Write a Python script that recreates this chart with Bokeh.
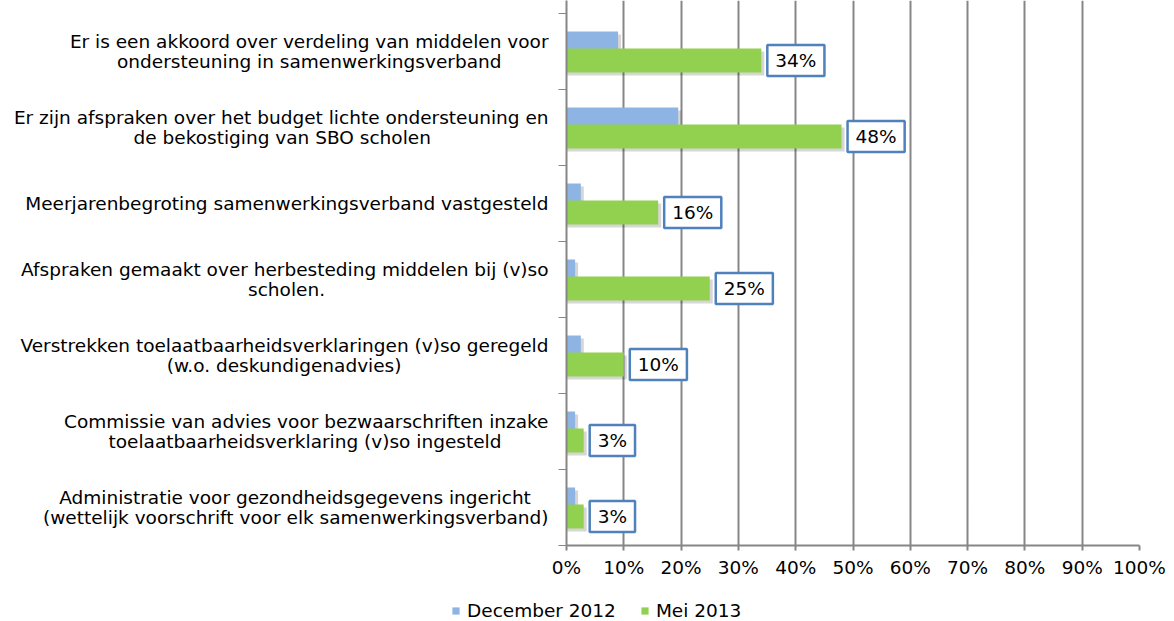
import glob
from bokeh.plotting import figure
from bokeh.layouts import column
from bokeh.models import (ColumnDataSource, FixedTicker, Range1d, Legend, LegendItem)
from bokeh.transform import dodge
from bokeh.core.properties import value
from bokeh.embed import file_html
from bokeh.resources import INLINE

categories = [
    "Er is een akkoord over verdeling van middelen voor\nondersteuning in samenwerkingsverband",
    "Er zijn afspraken over het budget lichte ondersteuning en\nde bekostiging van SBO scholen",
    "Meerjarenbegroting samenwerkingsverband vastgesteld",
    "Afspraken gemaakt over herbesteding middelen bij (v)so\nscholen.",
    "Verstrekken toelaatbaarheidsverklaringen (v)so geregeld\n(w.o. deskundigenadvies)",
    "Commissie van advies voor bezwaarschriften inzake\ntoelaatbaarheidsverklaring (v)so ingesteld",
    "Administratie voor gezondheidsgegevens ingericht\n(wettelijk voorschrift voor elk samenwerkingsverband)",
]
december_2012 = [9, 19.5, 2.5, 1.5, 2.5, 1.5, 1.5]
mei_2013 = [34, 48, 16, 25, 10, 3, 3]
x_ticks = [0, 10, 20, 30, 40, 50, 60, 70, 80, 90, 100]
x_tick_labels = ["0%", "10%", "20%", "30%", "40%", "50%", "60%", "70%", "80%", "90%", "100%"]
series_names = ["December 2012", "Mei 2013"]

FONT = "DejaVu Sans"
FS = 18.5
BLUE = "#8DB4E2"
GREEN = "#92D050"
GRID = "#868686"


# --- center the lines of each multi-line label inside its right-aligned block ---
def _measure():
    try:
        from PIL import ImageFont
        paths = (glob.glob("/usr/share/fonts/**/DejaVuSans.ttf", recursive=True) +
                 glob.glob("/usr/local/share/fonts/**/DejaVuSans.ttf", recursive=True))
        if paths:
            f = ImageFont.truetype(paths[0], 200)
            return lambda s: f.getlength(s) / 200.0
    except Exception:
        pass
    return lambda s: 0.56 * len(s)


em_len = _measure()
NBSP = "\u00a0"


def center_lines(label):
    lines = label.split("\n")
    if len(lines) == 1:
        return label
    widths = [em_len(l) for l in lines]
    w_max = max(widths)
    sp = em_len(NBSP) or 0.318
    out = []
    for l, w in zip(lines, widths):
        k = int(round((w_max - w) / 2.0 / sp))
        out.append(l + NBSP * k)
    return "\n".join(out)


n = len(categories)
ypos = [n - i - 0.5 for i in range(n)]

px_x = 100 / 573.0   # percent per pixel
px_y = 1 / 76.0      # category units per pixel

src = ColumnDataSource(dict(
    y=ypos,
    dec=december_2012,
    mei=mei_2013,
    dec_sh=[v + 3 * px_x for v in december_2012],
    mei_sh=[v + 3 * px_x for v in mei_2013],
    lbl=["%d%%" % v for v in mei_2013],
))

p = figure(frame_width=573, frame_height=545, output_backend="svg", toolbar_location=None,
           x_range=Range1d(0, 100), y_range=Range1d(0, n + 13 * px_y),
           min_border_left=566, min_border_right=35, min_border_top=0,
           min_border_bottom=55)
p.outline_line_color = None
p.background_fill_color = "white"
p.border_fill_color = "white"

bh = 24 * px_y
off_dec = 8 * px_y
off_mei = -9 * px_y

p.hbar(y=dodge("y", off_dec - 3 * px_y), left=0, right="dec_sh", height=bh, source=src,
       fill_color="#000000", fill_alpha=0.16, line_color=None)
p.hbar(y=dodge("y", off_dec), left=0, right="dec", height=bh, source=src,
       fill_color=BLUE, line_color=None)
p.hbar(y=dodge("y", off_mei - 3 * px_y), left=0, right="mei_sh", height=bh, source=src,
       fill_color="#000000", fill_alpha=0.16, line_color=None)
p.hbar(y=dodge("y", off_mei), left=0, right="mei", height=bh, source=src,
       fill_color=GREEN, line_color=None)

p.text(x="mei", y=dodge("y", off_mei), text="lbl", source=src,
       x_offset=6, text_align="left", text_baseline="middle",
       text_font=value(FONT), text_font_size="%gpx" % FS, text_color="black",
       padding=(8, 5), background_fill_color="white",
       border_line_color="#4F81BD", border_line_width=2.5)

# x axis
p.xaxis.ticker = FixedTicker(ticks=x_ticks)
p.xaxis.major_label_overrides = {t: l for t, l in zip(x_ticks, x_tick_labels)}
p.xaxis.major_label_text_font = FONT
p.xaxis.major_label_text_font_size = "%gpx" % FS
p.xaxis.major_label_text_color = "black"
p.xaxis.axis_line_color = GRID
p.xaxis.axis_line_width = 2
p.xaxis.major_tick_line_color = GRID
p.xaxis.major_tick_line_width = 2
p.xaxis.major_tick_in = 0
p.xaxis.major_tick_out = 5
p.xaxis.minor_tick_line_color = None
p.xaxis.major_label_standoff = 6

# y axis
p.yaxis.ticker = FixedTicker(ticks=ypos, minor_ticks=list(range(n + 1)))
p.yaxis.major_label_overrides = {y: center_lines(c) for y, c in zip(ypos, categories)}
p.yaxis.major_label_text_font = FONT
p.yaxis.major_label_text_font_size = "%gpx" % FS
p.yaxis.major_label_text_line_height = 0.95
p.yaxis.major_label_text_color = "black"
p.yaxis.axis_line_color = GRID
p.yaxis.axis_line_width = 2
p.yaxis.major_tick_line_color = None
p.yaxis.major_tick_in = 0
p.yaxis.major_tick_out = 0
p.yaxis.minor_tick_line_color = GRID
p.yaxis.minor_tick_line_width = 1
p.yaxis.minor_tick_in = 0
p.yaxis.minor_tick_out = 8
p.yaxis.major_label_standoff = 10

p.xgrid.ticker = FixedTicker(ticks=x_ticks)
p.xgrid.grid_line_color = GRID
p.xgrid.grid_line_width = 2
p.ygrid.grid_line_color = None

# legend strip below the chart; its swatch renderers share the series source but
# fall far outside this strip's ranges, so only the legend itself is visible
lg = figure(frame_width=1174, frame_height=21, output_backend="svg", toolbar_location=None,
            x_range=Range1d(-5000, -4900), y_range=Range1d(5000, 5001),
            min_border_left=0, min_border_right=0, min_border_top=0, min_border_bottom=0)
lg.axis.visible = False
lg.grid.visible = False
lg.outline_line_color = None
lg.background_fill_color = "white"
lg.border_fill_color = "white"
l_dec = lg.hbar(y="y", left=0, right="dec", height=bh, source=src,
                fill_color=BLUE, line_color=None)
l_mei = lg.hbar(y="y", left=0, right="mei", height=bh, source=src,
                fill_color=GREEN, line_color=None)
legend = Legend(items=[LegendItem(label=series_names[0], renderers=[l_dec]),
                       LegendItem(label=series_names[1], renderers=[l_mei])],
                orientation="horizontal", location=(451, 0),
                label_text_font=FONT, label_text_font_size="%gpx" % FS,
                label_text_color="black",
                label_height=18, glyph_width=9, glyph_height=9, label_standoff=7,
                spacing=24, padding=0, margin=0, border_line_color=None,
                background_fill_alpha=0)
lg.add_layout(legend, "center")

layout = column(p, lg, spacing=0)
open("out.html", "w").write(file_html(layout, INLINE))
